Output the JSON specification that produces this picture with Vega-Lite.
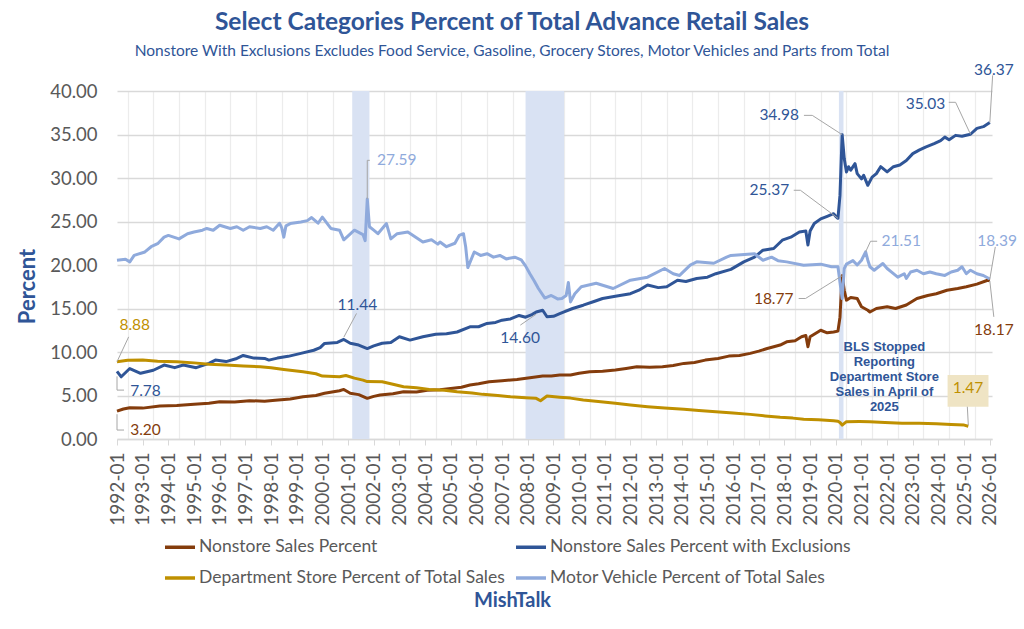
{
  "$schema": "https://vega.github.io/schema/vega-lite/v6.json",
  "width": 875,
  "height": 348,
  "autosize": {"type": "none"},
  "padding": {"left": 117, "top": 91, "right": 32, "bottom": 190},
  "background": "white",
  "title": {
    "text": "Select Categories Percent of Total Advance Retail Sales",
    "subtitle": "Nonstore With Exclusions Excludes Food Service, Gasoline, Grocery Stores, Motor Vehicles and Parts from Total",
    "anchor": "middle",
    "frame": "group",
    "dx": -42.5,
    "offset": 3,
    "font": "Lato",
    "fontSize": 24.5,
    "fontWeight": "bold",
    "color": "#2F5597",
    "subtitleFont": "Lato",
    "subtitleFontSize": 15.5,
    "subtitleColor": "#2F5597",
    "subtitlePadding": 8
  },
  "datasets": {
    "recessions": [
      {"start": "2001-03-01", "end": "2001-11-01"},
      {"start": "2007-12-01", "end": "2009-06-01"},
      {"start": "2020-02-15", "end": "2020-04-20"}
    ],
    "ns": [
      {"d": "1992-01", "v": 3.2}, {"d": "1992-04", "v": 3.45}, {"d": "1992-07", "v": 3.6}, {"d": "1993-01", "v": 3.55},
      {"d": "1993-09", "v": 3.79}, {"d": "1994-05", "v": 3.85}, {"d": "1995-01", "v": 4.0}, {"d": "1995-08", "v": 4.1},
      {"d": "1996-01", "v": 4.29}, {"d": "1996-08", "v": 4.25}, {"d": "1997-03", "v": 4.4}, {"d": "1997-10", "v": 4.35},
      {"d": "1998-03", "v": 4.45}, {"d": "1998-10", "v": 4.6}, {"d": "1999-04", "v": 4.86}, {"d": "1999-10", "v": 5.0},
      {"d": "2000-02", "v": 5.25}, {"d": "2000-09", "v": 5.55}, {"d": "2000-11", "v": 5.7}, {"d": "2001-02", "v": 5.25},
      {"d": "2001-06", "v": 5.1}, {"d": "2001-10", "v": 4.67}, {"d": "2002-01", "v": 4.9}, {"d": "2002-04", "v": 5.05},
      {"d": "2002-10", "v": 5.2}, {"d": "2003-03", "v": 5.43}, {"d": "2003-09", "v": 5.4}, {"d": "2004-02", "v": 5.6},
      {"d": "2004-08", "v": 5.65}, {"d": "2005-01", "v": 5.8}, {"d": "2005-06", "v": 5.95}, {"d": "2005-10", "v": 6.2},
      {"d": "2006-02", "v": 6.35}, {"d": "2006-07", "v": 6.58}, {"d": "2007-01", "v": 6.7}, {"d": "2007-08", "v": 6.85},
      {"d": "2008-02", "v": 7.05}, {"d": "2008-08", "v": 7.23}, {"d": "2008-12", "v": 7.25}, {"d": "2009-04", "v": 7.35},
      {"d": "2009-09", "v": 7.35}, {"d": "2010-01", "v": 7.55}, {"d": "2010-06", "v": 7.73}, {"d": "2010-12", "v": 7.8},
      {"d": "2011-06", "v": 7.92}, {"d": "2011-11", "v": 8.1}, {"d": "2012-04", "v": 8.3}, {"d": "2012-10", "v": 8.25},
      {"d": "2013-04", "v": 8.3}, {"d": "2013-09", "v": 8.45}, {"d": "2014-02", "v": 8.69}, {"d": "2014-07", "v": 8.8},
      {"d": "2014-12", "v": 9.07}, {"d": "2015-06", "v": 9.25}, {"d": "2015-11", "v": 9.53}, {"d": "2016-04", "v": 9.6},
      {"d": "2016-09", "v": 9.84}, {"d": "2017-01", "v": 10.1}, {"d": "2017-05", "v": 10.4}, {"d": "2017-11", "v": 10.8},
      {"d": "2018-02", "v": 11.17}, {"d": "2018-06", "v": 11.3}, {"d": "2018-09", "v": 11.75}, {"d": "2018-11", "v": 11.9},
      {"d": "2018-12", "v": 10.6}, {"d": "2019-01", "v": 11.75}, {"d": "2019-06", "v": 12.5}, {"d": "2019-09", "v": 12.2},
      {"d": "2019-12", "v": 12.3}, {"d": "2020-02", "v": 12.4}, {"d": "2020-03", "v": 14.0}, {"d": "2020-04", "v": 18.77},
      {"d": "2020-05", "v": 17.1}, {"d": "2020-06", "v": 15.96}, {"d": "2020-08", "v": 16.27}, {"d": "2020-11", "v": 16.15},
      {"d": "2021-01", "v": 15.2}, {"d": "2021-04", "v": 14.8}, {"d": "2021-05", "v": 14.6}, {"d": "2021-08", "v": 15.0},
      {"d": "2022-01", "v": 15.2}, {"d": "2022-05", "v": 15.0}, {"d": "2022-10", "v": 15.4}, {"d": "2023-03", "v": 16.15},
      {"d": "2023-08", "v": 16.5}, {"d": "2023-12", "v": 16.7}, {"d": "2024-05", "v": 17.1}, {"d": "2024-10", "v": 17.3},
      {"d": "2025-02", "v": 17.5}, {"d": "2025-07", "v": 17.8}, {"d": "2025-12", "v": 18.25}, {"d": "2026-01", "v": 18.17}
    ],
    "nx": [
      {"d": "1992-01", "v": 7.78}, {"d": "1992-03", "v": 7.15}, {"d": "1992-07", "v": 8.1}, {"d": "1992-12", "v": 7.55},
      {"d": "1993-06", "v": 7.9}, {"d": "1993-11", "v": 8.5}, {"d": "1994-04", "v": 8.2}, {"d": "1994-08", "v": 8.5},
      {"d": "1995-02", "v": 8.2}, {"d": "1995-08", "v": 8.7}, {"d": "1995-11", "v": 9.07}, {"d": "1996-04", "v": 8.9},
      {"d": "1996-09", "v": 9.26}, {"d": "1996-12", "v": 9.6}, {"d": "1997-05", "v": 9.3}, {"d": "1997-10", "v": 9.26},
      {"d": "1997-12", "v": 9.07}, {"d": "1998-04", "v": 9.3}, {"d": "1998-09", "v": 9.5}, {"d": "1999-03", "v": 9.84},
      {"d": "1999-09", "v": 10.2}, {"d": "1999-12", "v": 10.5}, {"d": "2000-02", "v": 10.99}, {"d": "2000-08", "v": 11.1},
      {"d": "2000-11", "v": 11.44}, {"d": "2001-02", "v": 11.0}, {"d": "2001-06", "v": 10.8}, {"d": "2001-10", "v": 10.4},
      {"d": "2002-01", "v": 10.7}, {"d": "2002-05", "v": 11.0}, {"d": "2002-09", "v": 11.1}, {"d": "2003-01", "v": 11.75},
      {"d": "2003-06", "v": 11.37}, {"d": "2003-12", "v": 11.75}, {"d": "2004-06", "v": 12.05}, {"d": "2004-11", "v": 12.1},
      {"d": "2005-04", "v": 12.3}, {"d": "2005-10", "v": 12.9}, {"d": "2006-02", "v": 12.9}, {"d": "2006-06", "v": 13.28},
      {"d": "2006-10", "v": 13.4}, {"d": "2007-01", "v": 13.66}, {"d": "2007-05", "v": 13.8}, {"d": "2007-09", "v": 14.2},
      {"d": "2007-12", "v": 14.0}, {"d": "2008-03", "v": 14.3}, {"d": "2008-05", "v": 14.6}, {"d": "2008-08", "v": 14.8},
      {"d": "2008-10", "v": 14.05}, {"d": "2009-01", "v": 14.1}, {"d": "2009-04", "v": 14.4}, {"d": "2009-06", "v": 14.6},
      {"d": "2009-10", "v": 15.0}, {"d": "2010-03", "v": 15.38}, {"d": "2010-08", "v": 15.8}, {"d": "2010-12", "v": 16.15},
      {"d": "2011-06", "v": 16.4}, {"d": "2012-01", "v": 16.7}, {"d": "2012-05", "v": 17.1}, {"d": "2012-09", "v": 17.7},
      {"d": "2013-02", "v": 17.4}, {"d": "2013-06", "v": 17.5}, {"d": "2013-11", "v": 18.25}, {"d": "2014-03", "v": 18.1},
      {"d": "2014-08", "v": 18.45}, {"d": "2015-01", "v": 18.6}, {"d": "2015-05", "v": 19.0}, {"d": "2015-12", "v": 19.5},
      {"d": "2016-06", "v": 20.36}, {"d": "2016-11", "v": 20.9}, {"d": "2017-03", "v": 21.7}, {"d": "2017-08", "v": 21.9},
      {"d": "2017-12", "v": 22.85}, {"d": "2018-04", "v": 23.2}, {"d": "2018-08", "v": 23.8}, {"d": "2018-11", "v": 23.9},
      {"d": "2018-12", "v": 22.3}, {"d": "2019-01", "v": 23.9}, {"d": "2019-03", "v": 24.76}, {"d": "2019-06", "v": 25.3},
      {"d": "2019-09", "v": 25.6}, {"d": "2019-12", "v": 25.9}, {"d": "2020-01", "v": 25.6}, {"d": "2020-02", "v": 25.37},
      {"d": "2020-03", "v": 28.0}, {"d": "2020-04", "v": 34.98}, {"d": "2020-05", "v": 32.2}, {"d": "2020-06", "v": 30.7},
      {"d": "2020-07", "v": 31.3}, {"d": "2020-08", "v": 30.9}, {"d": "2020-10", "v": 31.65}, {"d": "2020-11", "v": 30.5},
      {"d": "2021-01", "v": 29.9}, {"d": "2021-02", "v": 30.3}, {"d": "2021-04", "v": 29.16}, {"d": "2021-06", "v": 30.1},
      {"d": "2021-08", "v": 30.5}, {"d": "2021-10", "v": 31.3}, {"d": "2022-01", "v": 30.7}, {"d": "2022-04", "v": 31.3},
      {"d": "2022-07", "v": 31.5}, {"d": "2022-10", "v": 32.0}, {"d": "2023-01", "v": 32.8}, {"d": "2023-04", "v": 33.2},
      {"d": "2023-07", "v": 33.56}, {"d": "2023-11", "v": 33.95}, {"d": "2024-02", "v": 34.3}, {"d": "2024-04", "v": 34.7},
      {"d": "2024-06", "v": 34.4}, {"d": "2024-09", "v": 34.9}, {"d": "2024-12", "v": 34.8}, {"d": "2025-04", "v": 35.03},
      {"d": "2025-07", "v": 35.7}, {"d": "2025-10", "v": 35.9}, {"d": "2026-01", "v": 36.37}
    ],
    "ds": [
      {"d": "1992-01", "v": 8.88}, {"d": "1992-06", "v": 9.05}, {"d": "1993-01", "v": 9.07}, {"d": "1993-08", "v": 8.95},
      {"d": "1994-05", "v": 8.88}, {"d": "1995-01", "v": 8.75}, {"d": "1995-08", "v": 8.6}, {"d": "1996-04", "v": 8.5},
      {"d": "1996-12", "v": 8.38}, {"d": "1997-08", "v": 8.3}, {"d": "1998-01", "v": 8.2}, {"d": "1998-07", "v": 8.0},
      {"d": "1999-04", "v": 7.73}, {"d": "1999-10", "v": 7.5}, {"d": "2000-01", "v": 7.23}, {"d": "2000-09", "v": 7.15},
      {"d": "2000-12", "v": 7.3}, {"d": "2001-04", "v": 7.0}, {"d": "2001-08", "v": 6.77}, {"d": "2001-10", "v": 6.6},
      {"d": "2002-05", "v": 6.58}, {"d": "2002-10", "v": 6.3}, {"d": "2003-03", "v": 6.0}, {"d": "2003-09", "v": 5.9},
      {"d": "2004-03", "v": 5.7}, {"d": "2004-10", "v": 5.6}, {"d": "2005-04", "v": 5.43}, {"d": "2005-11", "v": 5.3},
      {"d": "2006-04", "v": 5.13}, {"d": "2006-11", "v": 5.0}, {"d": "2007-05", "v": 4.86}, {"d": "2007-12", "v": 4.75},
      {"d": "2008-05", "v": 4.67}, {"d": "2008-07", "v": 4.4}, {"d": "2008-10", "v": 4.94}, {"d": "2009-04", "v": 4.8},
      {"d": "2009-09", "v": 4.7}, {"d": "2010-03", "v": 4.48}, {"d": "2010-10", "v": 4.3}, {"d": "2011-06", "v": 4.1},
      {"d": "2012-01", "v": 3.9}, {"d": "2012-09", "v": 3.71}, {"d": "2013-05", "v": 3.55}, {"d": "2014-02", "v": 3.41},
      {"d": "2014-09", "v": 3.28}, {"d": "2015-05", "v": 3.14}, {"d": "2016-01", "v": 3.0}, {"d": "2016-09", "v": 2.83},
      {"d": "2017-04", "v": 2.65}, {"d": "2017-11", "v": 2.49}, {"d": "2018-05", "v": 2.4}, {"d": "2018-10", "v": 2.26},
      {"d": "2019-05", "v": 2.2}, {"d": "2019-12", "v": 2.1}, {"d": "2020-02", "v": 2.05}, {"d": "2020-03", "v": 1.9},
      {"d": "2020-04", "v": 1.6}, {"d": "2020-06", "v": 1.99}, {"d": "2020-12", "v": 2.0}, {"d": "2021-05", "v": 1.99},
      {"d": "2021-12", "v": 1.9}, {"d": "2022-08", "v": 1.8}, {"d": "2023-04", "v": 1.8}, {"d": "2023-12", "v": 1.76},
      {"d": "2024-07", "v": 1.68}, {"d": "2025-01", "v": 1.6}, {"d": "2025-03", "v": 1.47}
    ],
    "mv": [
      {"d": "1992-01", "v": 20.55}, {"d": "1992-05", "v": 20.67}, {"d": "1992-07", "v": 20.36}, {"d": "1992-09", "v": 21.1},
      {"d": "1993-02", "v": 21.5}, {"d": "1993-05", "v": 22.1}, {"d": "1993-08", "v": 22.45}, {"d": "1993-11", "v": 23.2},
      {"d": "1994-01", "v": 23.4}, {"d": "1994-06", "v": 23.0}, {"d": "1994-10", "v": 23.6}, {"d": "1995-01", "v": 23.8},
      {"d": "1995-05", "v": 24.0}, {"d": "1995-07", "v": 24.2}, {"d": "1995-10", "v": 24.0}, {"d": "1996-01", "v": 24.57},
      {"d": "1996-06", "v": 24.2}, {"d": "1996-09", "v": 24.4}, {"d": "1996-12", "v": 24.0}, {"d": "1997-03", "v": 24.4},
      {"d": "1997-08", "v": 24.2}, {"d": "1997-11", "v": 24.4}, {"d": "1998-02", "v": 24.0}, {"d": "1998-05", "v": 24.8},
      {"d": "1998-06", "v": 24.3}, {"d": "1998-07", "v": 23.2}, {"d": "1998-08", "v": 24.5}, {"d": "1998-10", "v": 24.76},
      {"d": "1999-03", "v": 24.95}, {"d": "1999-06", "v": 25.1}, {"d": "1999-08", "v": 25.45}, {"d": "1999-11", "v": 24.8},
      {"d": "2000-01", "v": 25.5}, {"d": "2000-05", "v": 24.2}, {"d": "2000-09", "v": 24.0}, {"d": "2000-11", "v": 22.9},
      {"d": "2001-04", "v": 24.0}, {"d": "2001-08", "v": 23.5}, {"d": "2001-09", "v": 22.8}, {"d": "2001-10", "v": 27.59},
      {"d": "2001-11", "v": 24.4}, {"d": "2002-01", "v": 24.0}, {"d": "2002-03", "v": 23.6}, {"d": "2002-07", "v": 24.76},
      {"d": "2002-09", "v": 23.0}, {"d": "2002-12", "v": 23.6}, {"d": "2003-05", "v": 23.8}, {"d": "2003-12", "v": 22.65},
      {"d": "2004-04", "v": 22.9}, {"d": "2004-07", "v": 22.4}, {"d": "2004-08", "v": 22.65}, {"d": "2004-11", "v": 22.1},
      {"d": "2005-03", "v": 22.5}, {"d": "2005-05", "v": 23.4}, {"d": "2005-07", "v": 23.6}, {"d": "2005-08", "v": 22.1},
      {"d": "2005-09", "v": 19.7}, {"d": "2005-12", "v": 21.5}, {"d": "2006-03", "v": 21.1}, {"d": "2006-06", "v": 21.3},
      {"d": "2006-09", "v": 20.9}, {"d": "2006-12", "v": 21.1}, {"d": "2007-03", "v": 20.7}, {"d": "2007-07", "v": 20.9},
      {"d": "2007-10", "v": 20.6}, {"d": "2007-12", "v": 19.9}, {"d": "2008-02", "v": 19.0}, {"d": "2008-04", "v": 18.2},
      {"d": "2008-06", "v": 17.3}, {"d": "2008-09", "v": 16.2}, {"d": "2008-12", "v": 16.5}, {"d": "2009-03", "v": 16.1},
      {"d": "2009-05", "v": 16.15}, {"d": "2009-07", "v": 16.5}, {"d": "2009-08", "v": 18.0}, {"d": "2009-09", "v": 15.76},
      {"d": "2009-11", "v": 16.7}, {"d": "2010-02", "v": 17.5}, {"d": "2010-09", "v": 17.9}, {"d": "2011-05", "v": 17.3},
      {"d": "2012-01", "v": 18.25}, {"d": "2012-09", "v": 18.6}, {"d": "2013-05", "v": 19.6}, {"d": "2013-09", "v": 19.0},
      {"d": "2013-12", "v": 18.8}, {"d": "2014-05", "v": 19.98}, {"d": "2014-08", "v": 20.36}, {"d": "2015-04", "v": 20.2},
      {"d": "2015-10", "v": 20.9}, {"d": "2015-12", "v": 21.1}, {"d": "2016-11", "v": 21.3}, {"d": "2017-03", "v": 20.55},
      {"d": "2017-07", "v": 20.9}, {"d": "2017-10", "v": 20.5}, {"d": "2018-02", "v": 20.36}, {"d": "2018-10", "v": 19.98},
      {"d": "2019-06", "v": 20.1}, {"d": "2019-11", "v": 19.8}, {"d": "2020-02", "v": 19.8}, {"d": "2020-03", "v": 18.0},
      {"d": "2020-04", "v": 16.15}, {"d": "2020-05", "v": 19.6}, {"d": "2020-06", "v": 20.1}, {"d": "2020-09", "v": 20.5},
      {"d": "2020-11", "v": 20.0}, {"d": "2021-01", "v": 20.55}, {"d": "2021-03", "v": 21.51}, {"d": "2021-04", "v": 20.55},
      {"d": "2021-05", "v": 19.8}, {"d": "2021-07", "v": 19.4}, {"d": "2021-08", "v": 19.6}, {"d": "2021-11", "v": 20.17},
      {"d": "2022-01", "v": 19.6}, {"d": "2022-03", "v": 19.2}, {"d": "2022-06", "v": 18.6}, {"d": "2022-09", "v": 19.0},
      {"d": "2022-10", "v": 18.45}, {"d": "2022-12", "v": 19.2}, {"d": "2023-03", "v": 19.4}, {"d": "2023-06", "v": 19.0},
      {"d": "2023-09", "v": 19.2}, {"d": "2023-12", "v": 19.0}, {"d": "2024-04", "v": 18.8}, {"d": "2024-07", "v": 19.2},
      {"d": "2024-10", "v": 19.4}, {"d": "2024-12", "v": 19.8}, {"d": "2025-02", "v": 19.0}, {"d": "2025-04", "v": 19.4},
      {"d": "2025-07", "v": 19.0}, {"d": "2025-10", "v": 18.8}, {"d": "2026-01", "v": 18.39}
    ],
    "callouts": [
      {"t": "27.59", "s": "Motor Vehicle Percent of Total Sales", "d": "2002-11-25", "v": 32.03},
      {"t": "21.51", "s": "Motor Vehicle Percent of Total Sales", "d": "2022-07-21", "v": 22.73},
      {"t": "18.39", "s": "Motor Vehicle Percent of Total Sales", "d": "2026-04-15", "v": 22.73},
      {"t": "11.44", "s": "Nonstore Sales Percent with Exclusions", "d": "2001-05-13", "v": 15.38},
      {"t": "7.78", "s": "Nonstore Sales Percent with Exclusions", "d": "1993-02-10", "v": 5.51},
      {"t": "14.60", "s": "Nonstore Sales Percent with Exclusions", "d": "2007-09-15", "v": 11.56},
      {"t": "34.98", "s": "Nonstore Sales Percent with Exclusions", "d": "2017-10-18", "v": 37.2},
      {"t": "25.37", "s": "Nonstore Sales Percent with Exclusions", "d": "2017-06-01", "v": 28.59},
      {"t": "35.03", "s": "Nonstore Sales Percent with Exclusions", "d": "2023-07-01", "v": 38.54},
      {"t": "36.37", "s": "Nonstore Sales Percent with Exclusions", "d": "2026-02-27", "v": 42.37},
      {"t": "8.88", "s": "Department Store Percent of Total Sales", "d": "1992-09-10", "v": 13.09},
      {"t": "1.47", "s": "Department Store Percent of Total Sales", "d": "2025-02-25", "v": 5.82},
      {"t": "3.20", "s": "Nonstore Sales Percent", "d": "1993-02-10", "v": 1.03},
      {"t": "18.77", "s": "Nonstore Sales Percent", "d": "2017-08-01", "v": 16.04},
      {"t": "18.17", "s": "Nonstore Sales Percent", "d": "2026-02-27", "v": 12.51}
    ],
    "leaders": [
      {"id": "a", "i": 1, "d": "2001-10-01", "v": 27.59}, {"id": "a", "i": 2, "d": "2001-10-01", "v": 32.03}, {"id": "a", "i": 3, "d": "2001-11-06", "v": 32.03},
      {"id": "b", "i": 1, "d": "2000-11-01", "v": 11.7}, {"id": "b", "i": 2, "d": "2001-05-01", "v": 14.43},
      {"id": "c", "i": 1, "d": "1992-01-01", "v": 8.88}, {"id": "c", "i": 2, "d": "1992-06-15", "v": 11.74},
      {"id": "e", "i": 1, "d": "1992-01-01", "v": 7.2}, {"id": "e", "i": 2, "d": "1992-01-01", "v": 5.62}, {"id": "e", "i": 3, "d": "1992-04-10", "v": 5.62},
      {"id": "f", "i": 1, "d": "1992-01-01", "v": 2.85}, {"id": "f", "i": 2, "d": "1992-01-01", "v": 1.03}, {"id": "f", "i": 3, "d": "1992-04-10", "v": 1.03},
      {"id": "g", "i": 1, "d": "2007-09-18", "v": 13.09}, {"id": "g", "i": 2, "d": "2008-05-01", "v": 14.35},
      {"id": "h", "i": 1, "d": "2018-10-05", "v": 37.2}, {"id": "h", "i": 2, "d": "2019-02-01", "v": 37.2}, {"id": "h", "i": 3, "d": "2020-04-01", "v": 34.98},
      {"id": "j", "i": 1, "d": "2018-05-13", "v": 28.59}, {"id": "j", "i": 2, "d": "2018-08-16", "v": 28.59}, {"id": "j", "i": 3, "d": "2020-02-01", "v": 25.37},
      {"id": "k", "i": 1, "d": "2018-07-22", "v": 16.15}, {"id": "k", "i": 2, "d": "2018-10-28", "v": 16.15}, {"id": "k", "i": 3, "d": "2020-04-01", "v": 18.77},
      {"id": "m", "i": 1, "d": "2021-03-01", "v": 21.51}, {"id": "m", "i": 2, "d": "2021-05-10", "v": 22.73}, {"id": "m", "i": 3, "d": "2021-08-12", "v": 22.73},
      {"id": "n", "i": 1, "d": "2024-05-27", "v": 38.7}, {"id": "n", "i": 2, "d": "2024-09-01", "v": 38.7}, {"id": "n", "i": 3, "d": "2025-04-01", "v": 35.03},
      {"id": "p", "i": 1, "d": "2026-01-01", "v": 36.37}, {"id": "p", "i": 2, "d": "2026-02-10", "v": 41.8},
      {"id": "q", "i": 1, "d": "2026-01-01", "v": 18.39}, {"id": "q", "i": 2, "d": "2026-03-20", "v": 22.08},
      {"id": "r", "i": 1, "d": "2026-01-01", "v": 18.17}, {"id": "r", "i": 2, "d": "2026-02-27", "v": 14.04},
      {"id": "u", "i": 1, "d": "2025-03-01", "v": 1.6}, {"id": "u", "i": 2, "d": "2025-02-15", "v": 3.71}
    ],
    "box": [
      {"d1": "2024-05-10", "d2": "2025-12-13", "v1": 3.71, "v2": 7.35}
    ],
    "note": [
      {"t": "BLS Stopped\nReporting\nDepartment Store\nSales in April of\n2025", "d": "2021-11-22", "v": 10.53}
    ]
  },
  "layer": [
    {
      "data": {"name": "recessions"},
      "mark": {"type": "rect", "color": "#D9E2F3"},
      "encoding": {
        "x": {
          "field": "start", "type": "temporal",
          "scale": {"type": "utc", "domain": [{"year": 1992, "month": 1, "date": 1, "utc": true}, {"year": 2026, "month": 2, "date": 1, "utc": true}]},
          "axis": {
            "orient": "top", "labels": false, "ticks": false, "domain": false, "title": null,
            "grid": true, "gridColor": "#ECECEC", "gridWidth": 1.2,
            "values": [
              {"year": 1992, "month": 6, "date": 1, "utc": true}, {"year": 1993, "month": 6, "date": 1, "utc": true},
              {"year": 1994, "month": 6, "date": 1, "utc": true}, {"year": 1995, "month": 6, "date": 1, "utc": true},
              {"year": 1996, "month": 6, "date": 1, "utc": true}, {"year": 1997, "month": 6, "date": 1, "utc": true},
              {"year": 1998, "month": 6, "date": 1, "utc": true}, {"year": 1999, "month": 6, "date": 1, "utc": true},
              {"year": 2000, "month": 6, "date": 1, "utc": true}, {"year": 2001, "month": 6, "date": 1, "utc": true},
              {"year": 2002, "month": 6, "date": 1, "utc": true}, {"year": 2003, "month": 6, "date": 1, "utc": true},
              {"year": 2004, "month": 6, "date": 1, "utc": true}, {"year": 2005, "month": 6, "date": 1, "utc": true},
              {"year": 2006, "month": 6, "date": 1, "utc": true}, {"year": 2007, "month": 6, "date": 1, "utc": true},
              {"year": 2008, "month": 6, "date": 1, "utc": true}, {"year": 2009, "month": 6, "date": 1, "utc": true},
              {"year": 2010, "month": 6, "date": 1, "utc": true}, {"year": 2011, "month": 6, "date": 1, "utc": true},
              {"year": 2012, "month": 6, "date": 1, "utc": true}, {"year": 2013, "month": 6, "date": 1, "utc": true},
              {"year": 2014, "month": 6, "date": 1, "utc": true}, {"year": 2015, "month": 6, "date": 1, "utc": true},
              {"year": 2016, "month": 6, "date": 1, "utc": true}, {"year": 2017, "month": 6, "date": 1, "utc": true},
              {"year": 2018, "month": 6, "date": 1, "utc": true}, {"year": 2019, "month": 6, "date": 1, "utc": true},
              {"year": 2020, "month": 6, "date": 1, "utc": true}, {"year": 2021, "month": 6, "date": 1, "utc": true},
              {"year": 2022, "month": 6, "date": 1, "utc": true}, {"year": 2023, "month": 6, "date": 1, "utc": true},
              {"year": 2024, "month": 6, "date": 1, "utc": true}, {"year": 2025, "month": 6, "date": 1, "utc": true}
            ]
          }
        },
        "x2": {"field": "end"}
      }
    },
    {
      "data": {"name": "box"},
      "mark": {"type": "rect", "color": "#EFE4C4", "clip": false},
      "encoding": {
        "x": {"field": "d1", "type": "temporal", "scale": {"type": "utc", "domain": [{"year": 1992, "month": 1, "date": 1, "utc": true}, {"year": 2026, "month": 2, "date": 1, "utc": true}]}, "axis": null},
        "x2": {"field": "d2"},
        "y": {"field": "v1", "type": "quantitative", "scale": {"domain": [0, 40], "nice": false}},
        "y2": {"field": "v2"}
      }
    },
    {
      "data": {"name": "ns"},
      "mark": {"type": "line", "strokeWidth": 3, "strokeJoin": "round"},
      "encoding": {
        "x": {
          "field": "d", "type": "temporal",
          "scale": {"type": "utc", "domain": [{"year": 1992, "month": 1, "date": 1, "utc": true}, {"year": 2026, "month": 2, "date": 1, "utc": true}]},
          "axis": {
            "orient": "bottom", "labelExpr": "utcFormat(datum.value, '%Y-%m')",
            "tickCount": {"interval": "year", "step": 1},
            "labelAngle": 270, "labelAlign": "right", "labelBaseline": "middle",
            "labelFontSize": 19, "labelColor": "#595959", "labelPadding": 7,
            "labelOverlap": false, "labelFlush": false,
            "grid": false, "ticks": true, "tickSize": 6, "tickColor": "#D9D9D9",
            "domainColor": "#D9D9D9", "domainWidth": 1.5,
            "title": "MishTalk", "titleX": 395, "titleY": 161,
            "titleFontSize": 20, "titleFontWeight": "bold", "titleColor": "#2F5597",
            "titleAlign": "center", "titleBaseline": "middle"
          }
        },
        "y": {
          "field": "v", "type": "quantitative",
          "scale": {"domain": [0, 40], "nice": false},
          "axis": {
            "values": [0, 5, 10, 15, 20, 25, 30, 35, 40], "format": ".2f",
            "labelFontSize": 18.5, "labelColor": "#595959", "labelPadding": 20,
            "domain": false, "ticks": false,
            "grid": true, "gridColor": "#D9D9D9", "gridWidth": 1.5,
            "title": "Percent", "titleFontSize": 22, "titleFontWeight": "bold", "titleColor": "#2F5597",
            "titleAngle": 270, "titleX": -90, "titleY": 195, "titleAlign": "center", "titleBaseline": "middle"
          }
        },
        "color": {
          "datum": "Nonstore Sales Percent",
          "scale": {
            "domain": ["Nonstore Sales Percent", "Nonstore Sales Percent with Exclusions", "Department Store Percent of Total Sales", "Motor Vehicle Percent of Total Sales"],
            "range": ["#843C0C", "#2F5597", "#BF9000", "#8FAADC"]
          },
          "legend": {
            "title": null, "orient": "none", "legendX": 46, "legendY": 439,
            "direction": "horizontal", "columns": 2, "padding": 0,
            "symbolType": "stroke", "symbolSize": 900, "symbolStrokeWidth": 3.5,
            "labelFontSize": 17.5, "labelColor": "#595959", "labelLimit": 400, "labelOffset": 2,
            "columnPadding": 3, "rowPadding": 5
          }
        }
      }
    },
    {
      "data": {"name": "nx"},
      "mark": {"type": "line", "strokeWidth": 3, "strokeJoin": "round"},
      "encoding": {
        "x": {"field": "d", "type": "temporal", "scale": {"type": "utc", "domain": [{"year": 1992, "month": 1, "date": 1, "utc": true}, {"year": 2026, "month": 2, "date": 1, "utc": true}]}, "axis": null},
        "y": {"field": "v", "type": "quantitative", "scale": {"domain": [0, 40], "nice": false}},
        "color": {
          "datum": "Nonstore Sales Percent with Exclusions",
          "scale": {
            "domain": ["Nonstore Sales Percent", "Nonstore Sales Percent with Exclusions", "Department Store Percent of Total Sales", "Motor Vehicle Percent of Total Sales"],
            "range": ["#843C0C", "#2F5597", "#BF9000", "#8FAADC"]
          }
        }
      }
    },
    {
      "data": {"name": "ds"},
      "mark": {"type": "line", "strokeWidth": 3, "strokeJoin": "round"},
      "encoding": {
        "x": {"field": "d", "type": "temporal", "scale": {"type": "utc", "domain": [{"year": 1992, "month": 1, "date": 1, "utc": true}, {"year": 2026, "month": 2, "date": 1, "utc": true}]}, "axis": null},
        "y": {"field": "v", "type": "quantitative", "scale": {"domain": [0, 40], "nice": false}},
        "color": {
          "datum": "Department Store Percent of Total Sales",
          "scale": {
            "domain": ["Nonstore Sales Percent", "Nonstore Sales Percent with Exclusions", "Department Store Percent of Total Sales", "Motor Vehicle Percent of Total Sales"],
            "range": ["#843C0C", "#2F5597", "#BF9000", "#8FAADC"]
          }
        }
      }
    },
    {
      "data": {"name": "mv"},
      "mark": {"type": "line", "strokeWidth": 3, "strokeJoin": "round"},
      "encoding": {
        "x": {"field": "d", "type": "temporal", "scale": {"type": "utc", "domain": [{"year": 1992, "month": 1, "date": 1, "utc": true}, {"year": 2026, "month": 2, "date": 1, "utc": true}]}, "axis": null},
        "y": {"field": "v", "type": "quantitative", "scale": {"domain": [0, 40], "nice": false}},
        "color": {
          "datum": "Motor Vehicle Percent of Total Sales",
          "scale": {
            "domain": ["Nonstore Sales Percent", "Nonstore Sales Percent with Exclusions", "Department Store Percent of Total Sales", "Motor Vehicle Percent of Total Sales"],
            "range": ["#843C0C", "#2F5597", "#BF9000", "#8FAADC"]
          }
        }
      }
    },
    {
      "data": {"name": "leaders"},
      "mark": {"type": "line", "color": "#A6A6A6", "strokeWidth": 1, "clip": false},
      "encoding": {
        "x": {"field": "d", "type": "temporal", "scale": {"type": "utc", "domain": [{"year": 1992, "month": 1, "date": 1, "utc": true}, {"year": 2026, "month": 2, "date": 1, "utc": true}]}, "axis": null},
        "y": {"field": "v", "type": "quantitative", "scale": {"domain": [0, 40], "nice": false}},
        "detail": {"field": "id", "type": "nominal"},
        "order": {"field": "i", "type": "quantitative"}
      }
    },
    {
      "data": {"name": "callouts"},
      "mark": {"type": "text", "fontSize": 15.5, "align": "center", "baseline": "middle", "clip": false},
      "encoding": {
        "x": {"field": "d", "type": "temporal", "scale": {"type": "utc", "domain": [{"year": 1992, "month": 1, "date": 1, "utc": true}, {"year": 2026, "month": 2, "date": 1, "utc": true}]}, "axis": null},
        "y": {"field": "v", "type": "quantitative", "scale": {"domain": [0, 40], "nice": false}},
        "text": {"field": "t"},
        "color": {
          "field": "s", "type": "nominal", "legend": null,
          "scale": {
            "domain": ["Nonstore Sales Percent", "Nonstore Sales Percent with Exclusions", "Department Store Percent of Total Sales", "Motor Vehicle Percent of Total Sales"],
            "range": ["#843C0C", "#2F5597", "#BF9000", "#8FAADC"]
          }
        }
      }
    },
    {
      "data": {"name": "note"},
      "mark": {"type": "text", "font": "Liberation Sans", "fontWeight": "bold", "fontSize": 13, "lineHeight": 15, "lineBreak": "\n", "color": "#2F5597", "align": "center", "baseline": "middle", "clip": false},
      "encoding": {
        "x": {"field": "d", "type": "temporal", "scale": {"type": "utc", "domain": [{"year": 1992, "month": 1, "date": 1, "utc": true}, {"year": 2026, "month": 2, "date": 1, "utc": true}]}, "axis": null},
        "y": {"field": "v", "type": "quantitative", "scale": {"domain": [0, 40], "nice": false}},
        "text": {"field": "t"}
      }
    }
  ],
  "resolve": {"axis": {"x": "independent"}},
  "config": {
    "font": "Lato",
    "view": {"stroke": null},
    "axis": {"labelFont": "Lato", "titleFont": "Lato"},
    "legend": {"labelFont": "Lato"},
    "text": {"font": "Lato"}
  }
}
